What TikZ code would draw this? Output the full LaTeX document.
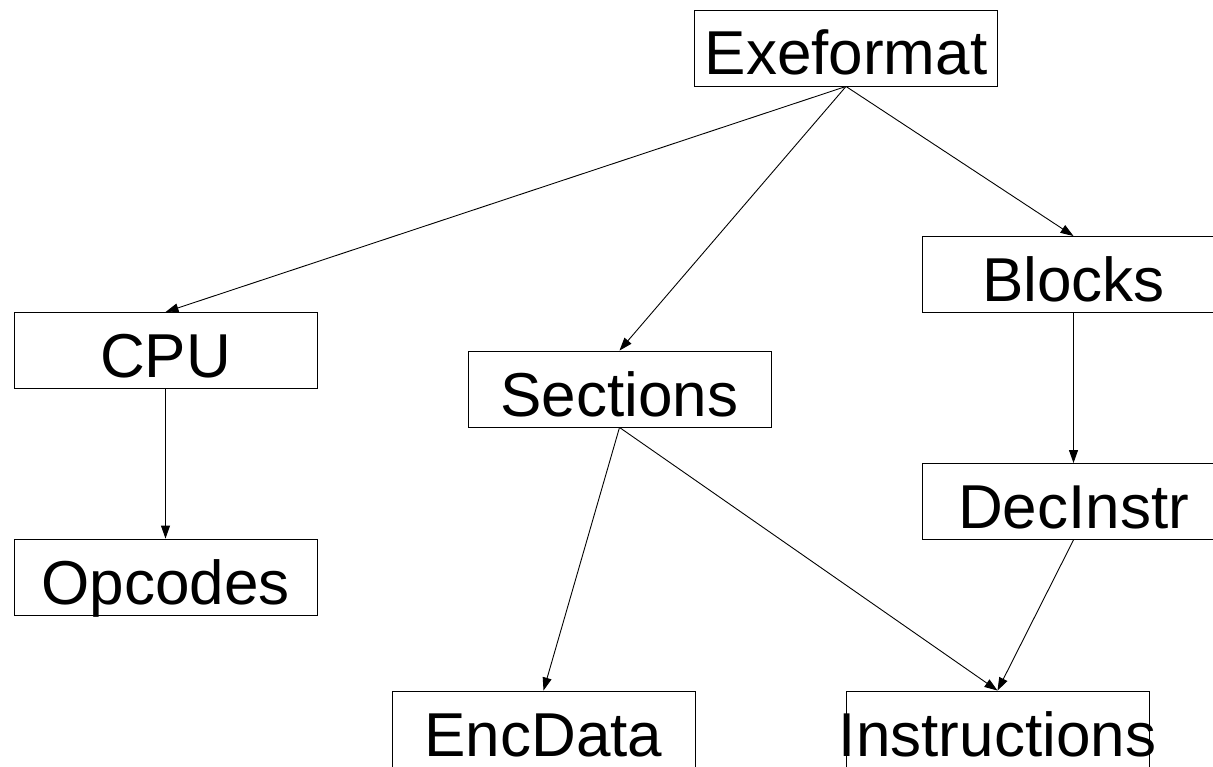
\documentclass[tikz,border=0pt]{standalone}
\usepackage{fontspec}
\setmainfont{Liberation Sans}
\usetikzlibrary{arrows.meta}
\begin{document}
\begin{tikzpicture}[x=1pt,y=-1pt,
  box/.style={draw, line width=0.9pt, minimum width=303pt, minimum height=76pt,
    inner sep=0pt, text height=54pt, text depth=0pt,
    font=\fontsize{62}{70}\selectfont},
  conn/.style={line width=0.9pt, -{Triangle[length=13pt,width=9pt]}}]
\useasboundingbox (0,0) rectangle (1213,767);
\node[box] (exe) at (846,48) {Exeformat};
\node[box] (cpu) at (165.5,350.5) {CPU};
\node[box] (sec) at (619.5,389) {Sections};
\node[box] (blk) at (1073.5,274.5) {Blocks};
\node[box] (dec) at (1073.5,501.5) {DecInstr};
\node[box] (opc) at (165.5,577) {Opcodes};
\node[box] (enc) at (543.5,729) {EncData};
\node[box] (ins) at (997.5,729) {\makebox[250pt]{Instructions}};
\draw[conn] (exe.south) -- (cpu.north);
\draw[conn] (exe.south) -- (sec.north);
\draw[conn] (exe.south) -- (blk.north);
\draw[conn] (cpu.south) -- (opc.north);
\draw[conn] (sec.south) -- (enc.north);
\draw[conn] (sec.south) -- (ins.north);
\draw[conn] (blk.south) -- (dec.north);
\draw[conn] (dec.south) -- (ins.north);
\end{tikzpicture}
\end{document}
